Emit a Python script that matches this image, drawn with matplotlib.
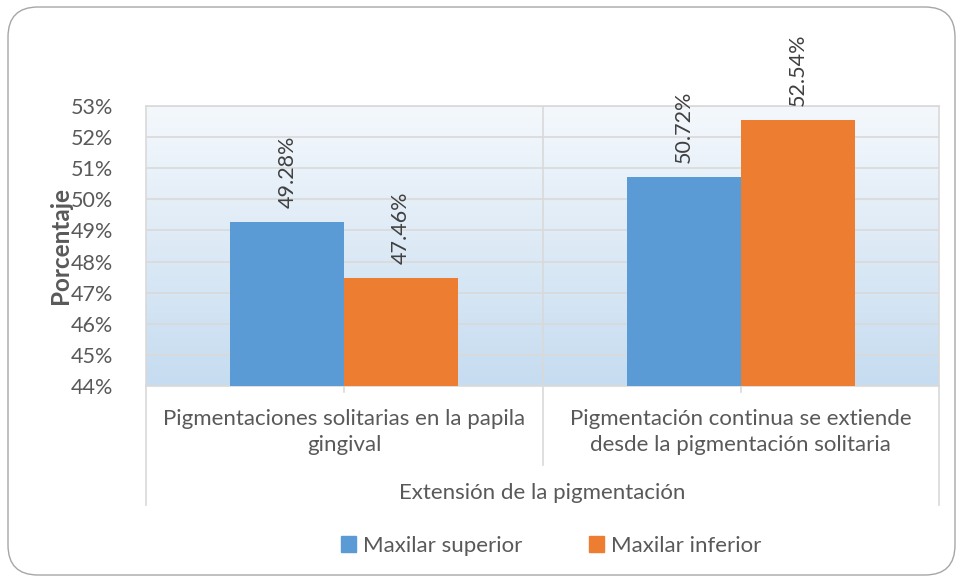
import numpy as np
import matplotlib.pyplot as plt
from matplotlib.patches import FancyBboxPatch, Patch
from matplotlib.transforms import blended_transform_factory
from matplotlib.colors import LinearSegmentedColormap

# Datos
categorias = ['Pigmentaciones solitarias en la papila\ngingival',
              'Pigmentación continua se extiende\ndesde la pigmentación solitaria']
superior = [49.28, 50.72]
inferior = [47.46, 52.54]
series = ['Maxilar superior', 'Maxilar inferior']
ticks_y = [44, 45, 46, 47, 48, 49, 50, 51, 52, 53]

azul = '#5B9BD5'
naranja = '#ED7D31'
gris = '#595959'
fs = 15.5
plt.rcParams['font.family'] = ['Lato', 'DejaVu Sans']

fig = plt.figure(figsize=(9.57, 5.79), dpi=100)
W, H = 957, 579

# marco redondeado
marco = FancyBboxPatch((0.08, 0.04), 9.47, 5.68, boxstyle='round,pad=0,rounding_size=0.3',
                       transform=fig.dpi_scale_trans, facecolor='none',
                       edgecolor='#A6A6A6', linewidth=1, zorder=-1)
fig.patches.append(marco)

x0, x1, y0, y1 = 146, 939, 106, 386
ax = fig.add_axes([x0 / W, 1 - y1 / H, (x1 - x0) / W, (y1 - y0) / H])
ax.set_facecolor('none')

# fondo degradado
grad = np.linspace(0, 1, 256).reshape(-1, 1)
cmap = LinearSegmentedColormap.from_list('fondo', ['#C6DCF0', '#F4F8FC'])
ax.imshow(grad, extent=[0, 1, 0, 1], transform=ax.transAxes, cmap=cmap,
          origin='lower', aspect='auto', zorder=0)

x = np.arange(len(categorias))
ancho = 0.287
b1 = ax.bar(x - ancho / 2, [v - 44 for v in superior], ancho, bottom=44, color=azul, zorder=3)
b2 = ax.bar(x + ancho / 2, [v - 44 for v in inferior], ancho, bottom=44, color=naranja, zorder=3)

for barras, valores in ((b1, superior), (b2, inferior)):
    for b, v in zip(barras, valores):
        ax.annotate(f'{v:.2f}%', (b.get_x() + b.get_width() / 2, v),
                    xytext=(0, 14), textcoords='offset pixels', rotation=90,
                    ha='center', va='bottom', fontsize=fs, color='#404040',
                    annotation_clip=False, zorder=5)

ax.set_xlim(-0.5, 1.5)
ax.set_ylim(44, 53)
ax.set_yticks(ticks_y)
ax.set_yticklabels([f'{t}%' for t in ticks_y], fontsize=fs, color=gris)
ax.tick_params(axis='y', length=0, pad=24)
ax.set_xticks([])
ax.grid(axis='y', color='#D9D9D9', linewidth=1.2, zorder=1)
ax.axvline(0.5, color='#D9D9D9', linewidth=1.2, zorder=1)
for s in ax.spines.values():
    s.set_color('#D9D9D9')
    s.set_linewidth(1.2)

ax.set_ylabel('Porcentaje', fontsize=17.5, fontweight='bold', color=gris)
ax.yaxis.set_label_coords((72 - x0) / (x1 - x0), 0.5)

# lineas del eje de categorias (varios niveles)
tr = blended_transform_factory(ax.transData, ax.transAxes)
bajo = lambda py: (y1 - py) / (y1 - y0)
for xv, fondo in ((-0.5, 505), (1.5, 505), (0.5, 465)):
    ax.plot([xv, xv], [0, bajo(fondo)], color='#D9D9D9', linewidth=1.2,
            transform=tr, clip_on=False)
for xv in x:
    ax.plot([xv, xv], [0, bajo(392)], color='#D9D9D9', linewidth=1.2,
            transform=tr, clip_on=False)

for xv, cat in zip(x, categorias):
    ax.text(xv, bajo(432), cat, transform=tr, ha='center', va='center',
            fontsize=16, color=gris, linespacing=1.4)

ax.text(0.5, bajo(493), 'Extensión de la pigmentación', transform=tr,
        ha='center', va='center', fontsize=16, color=gris)

manejadores = [Patch(color=azul), Patch(color=naranja)]
fig.legend(manejadores, series, loc='center', bbox_to_anchor=(551 / W, 1 - 546 / H),
           ncol=2, frameon=False, fontsize=16, handlelength=0.7, handleheight=0.7,
           handletextpad=0.3, columnspacing=3.0, labelcolor=gris)

fig.savefig('out.png', dpi=100)
